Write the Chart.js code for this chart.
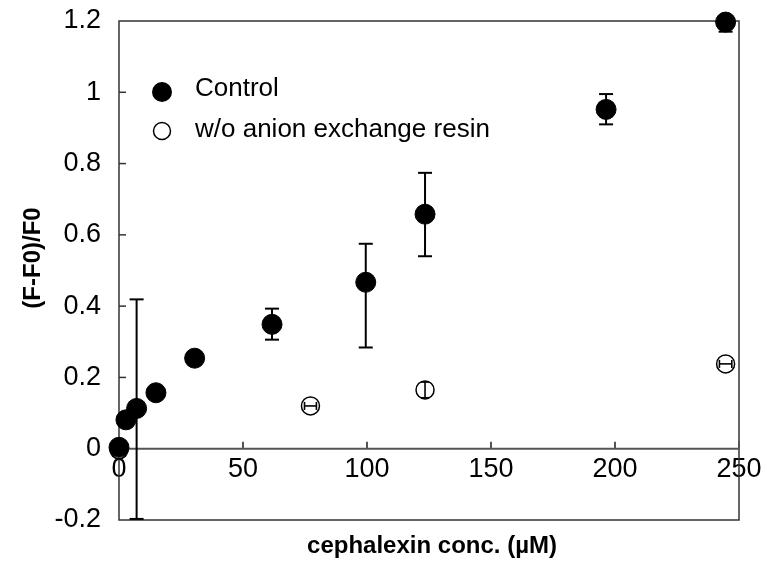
<!DOCTYPE html>
<html>
<head>
<meta charset="utf-8">
<script src="https://cdn.jsdelivr.net/npm/chart.js@4.4.1/dist/chart.umd.min.js"></script>
<style>
  html, body { margin: 0; padding: 0; background: #fff; }
</style>
</head>
<body>
<canvas id="myChart" width="766" height="563"></canvas>
<script>
const FONT = "'Liberation Sans', Arial, sans-serif";

// Control (filled circles)
const controlX = [0, 2.8, 7.1, 14.9, 30.5, 61.7, 99.5, 123.4, 196.4, 244.6];
const controlY = [0.004, 0.081, 0.113, 0.157, 0.254, 0.349, 0.467, 0.658, 0.952, 1.197];
const controlYLow = [null, null, -0.197, null, null, 0.306, 0.284, 0.540, 0.910, 1.170];
const controlYHigh = [null, null, 0.419, null, null, 0.393, 0.575, 0.774, 0.995, 1.224];

// w/o anion exchange resin (open circles)
const resinX = [0, 77.2, 123.4, 244.6];
const resinY = [-0.003, 0.120, 0.165, 0.238];
const resinXErr = [0, 2.4, 0, 2.5];
const resinYErr = [0, 0, 0.022, 0];

const seriesNames = ['Control', 'w/o anion exchange resin'];
const xTicks = [0, 50, 100, 150, 200, 250];
const yTicks = [-0.2, 0, 0.2, 0.4, 0.6, 0.8, 1, 1.2];
const xTitle = 'cephalexin conc. (µM)';
const yTitle = '(F-F0)/F0';

let myChart;

const line = (ctx, x1, y1, x2, y2) => {
  ctx.beginPath();
  ctx.moveTo(x1, y1);
  ctx.lineTo(x2, y2);
  ctx.stroke();
};

// box, zero line and inward tick marks
const framePlugin = {
  id: 'frame',
  beforeDatasetsDraw(chart) {
    const {ctx, chartArea: a, scales: {x, y}} = chart;
    ctx.save();
    ctx.strokeStyle = '#333';
    ctx.lineWidth = 1.5;
    ctx.strokeRect(a.left, a.top, a.right - a.left, a.bottom - a.top);
    const y0 = y.getPixelForValue(0);
    ctx.strokeStyle = '#555';
    ctx.lineWidth = 2;
    line(ctx, a.left, y0, a.right, y0);
    xTicks.filter(v => v > 0).forEach(v => {
      const px = x.getPixelForValue(v);
      line(ctx, px, y0, px, y0 - 7);
    });
    ctx.strokeStyle = '#333';
    ctx.lineWidth = 1.5;
    yTicks.filter(v => v > -0.2 && v < 1.2).forEach(v => {
      const py = y.getPixelForValue(v);
      line(ctx, a.left, py, a.left + 7, py);
    });
    ctx.restore();
  }
};

const errorBars = {
  id: 'errorBars',
  afterDatasetsDraw(chart) {
    const {ctx, chartArea: a, scales: {x, y}} = chart;
    ctx.save();
    ctx.beginPath();
    ctx.rect(a.left, a.top, a.right - a.left, a.bottom - a.top);
    ctx.clip();
    ctx.strokeStyle = '#000';
    ctx.lineWidth = 2;
    controlX.forEach((cx, i) => {
      if (controlYLow[i] === null) return;
      const px = x.getPixelForValue(cx);
      const lo = y.getPixelForValue(controlYLow[i]);
      const hi = y.getPixelForValue(controlYHigh[i]);
      line(ctx, px, lo, px, hi);
      line(ctx, px - 7, lo, px + 7, lo);
      line(ctx, px - 7, hi, px + 7, hi);
    });
    ctx.lineWidth = 1.6;
    resinX.forEach((rx, i) => {
      const px = x.getPixelForValue(rx);
      const py = y.getPixelForValue(resinY[i]);
      if (resinXErr[i]) {
        const l = x.getPixelForValue(rx - resinXErr[i]);
        const r = x.getPixelForValue(rx + resinXErr[i]);
        line(ctx, l, py, r, py);
        line(ctx, l, py - 4, l, py + 4);
        line(ctx, r, py - 4, r, py + 4);
      }
      if (resinYErr[i]) {
        const t = y.getPixelForValue(resinY[i] + resinYErr[i]);
        const b = y.getPixelForValue(resinY[i] - resinYErr[i]);
        line(ctx, px, t, px, b);
        line(ctx, px - 4, t, px + 4, t);
        line(ctx, px - 4, b, px + 4, b);
      }
    });
    ctx.restore();
  }
};

// legend inside the plot + axis titles
const labelsPlugin = {
  id: 'labels',
  afterDraw(chart) {
    const {ctx, chartArea: a} = chart;
    ctx.save();
    ctx.fillStyle = '#000';
    ctx.font = '26px ' + FONT;
    ctx.textBaseline = 'middle';
    ctx.textAlign = 'left';
    ctx.beginPath();
    ctx.arc(a.left + 43, 92, 10, 0, Math.PI * 2);
    ctx.fill();
    ctx.fillText(seriesNames[0], a.left + 76, 89);
    ctx.beginPath();
    ctx.arc(a.left + 43, 131, 8.5, 0, Math.PI * 2);
    ctx.fillStyle = '#fff';
    ctx.fill();
    ctx.strokeStyle = '#000';
    ctx.lineWidth = 1.5;
    ctx.stroke();
    ctx.fillStyle = '#000';
    ctx.fillText(seriesNames[1], a.left + 76, 130);

    ctx.font = 'bold 24px ' + FONT;
    ctx.textAlign = 'center';
    ctx.fillText(xTitle, 432, 546);
    ctx.translate(33, 258);
    ctx.rotate(-Math.PI / 2);
    ctx.fillText(yTitle, 0, 0);
    ctx.restore();
  }
};

const setup = () => {
  const context = document.getElementById('myChart').getContext('2d');
  Chart.defaults.font.family = FONT;
  Chart.defaults.color = '#000';

  myChart = new Chart(context, {
    type: 'scatter',
    data: {
      datasets: [{
        label: seriesNames[0],
        data: controlX.map((v, i) => ({x: v, y: controlY[i]})),
        pointRadius: 10,
        pointHoverRadius: 10,
        backgroundColor: '#000',
        borderColor: '#000',
        borderWidth: 1,
        clip: false
      }, {
        label: seriesNames[1],
        data: resinX.map((v, i) => ({x: v, y: resinY[i]})),
        pointRadius: 9,
        pointHoverRadius: 9,
        backgroundColor: '#fff',
        borderColor: '#000',
        borderWidth: 1.5,
        clip: false
      }]
    },
    options: {
      responsive: false,
      animation: false,
      layout: { padding: { top: 21, right: 27, bottom: 43, left: 0 } },
      plugins: { legend: { display: false }, tooltip: { enabled: false } },
      scales: {
        x: {
          type: 'linear',
          position: { y: 0 },
          min: 0,
          max: 250,
          afterBuildTicks: s => { s.ticks = xTicks.map(v => ({value: v})); },
          afterFit: s => { s.height = 0; s.paddingLeft = 0; s.paddingRight = 0; },
          grid: { display: false, drawTicks: false },
          border: { display: false },
          ticks: { font: { size: 27 }, padding: 5, maxRotation: 0 }
        },
        y: {
          min: -0.2,
          max: 1.2,
          afterBuildTicks: s => { s.ticks = yTicks.map(v => ({value: v})); },
          afterFit: s => { s.width = 119; s.paddingTop = 0; s.paddingBottom = 0; },
          grid: { display: false, drawTicks: false },
          border: { display: false },
          ticks: { font: { size: 27 }, padding: 18, callback: v => String(+v.toFixed(1)) }
        }
      }
    },
    plugins: [framePlugin, errorBars, labelsPlugin]
  });
};

window.addEventListener('DOMContentLoaded', setup);
</script>
</body>
</html>
